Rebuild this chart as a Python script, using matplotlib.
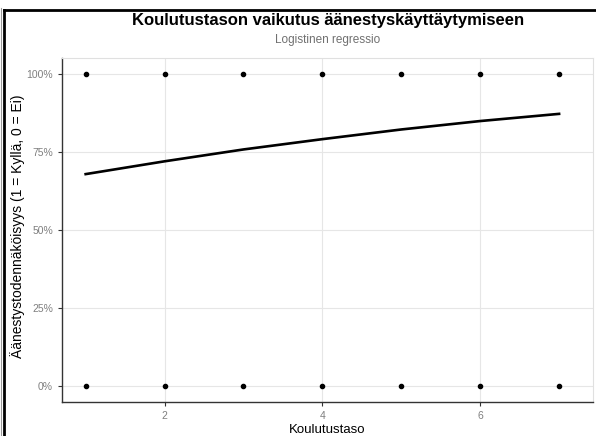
import matplotlib
matplotlib.use("Agg")
import matplotlib.pyplot as plt
from matplotlib.lines import Line2D
from matplotlib.ticker import PercentFormatter

plt.rcParams['font.family'] = ['Liberation Sans', 'DejaVu Sans']

# observed outcomes (voted yes/no) at each education level
edu_levels = [1, 2, 3, 4, 5, 6, 7]
obs_yes = [1, 1, 1, 1, 1, 1, 1]
obs_no = [0, 0, 0, 0, 0, 0, 0]

# fitted logistic curve
fit_x = [1, 2, 3, 4, 5, 6, 7]
fit_prob = [0.678, 0.719, 0.757, 0.790, 0.821, 0.848, 0.871]

y_ticks = [0, 0.25, 0.5, 0.75, 1.0]
x_ticks = [2, 4, 6]

fig = plt.figure(figsize=(5.96, 4.36), dpi=100)
ax = fig.add_axes([0.104, 0.078, 0.891, 0.789])

ax.grid(True, color='#e6e6e6', linewidth=0.8)
ax.set_axisbelow(True)

ax.scatter(edu_levels, obs_yes, s=9, color='black', zorder=3)
ax.scatter(edu_levels, obs_no, s=9, color='black', zorder=3)
ax.plot(fit_x, fit_prob, color='black', linewidth=1.9, zorder=4)

ax.set_xlim(0.7, 7.43)
ax.set_ylim(-0.052, 1.05)
ax.set_xticks(x_ticks)
ax.set_yticks(y_ticks)
ax.yaxis.set_major_formatter(PercentFormatter(1.0, decimals=0))
ax.tick_params(axis='both', labelsize=7.5, labelcolor='#7f7f7f', color='#333333',
               length=3, width=0.8)

for s in ['top', 'right']:
    ax.spines[s].set_color('#e0e0e0')
    ax.spines[s].set_linewidth(0.8)
for s in ['left', 'bottom']:
    ax.spines[s].set_color('#333333')
    ax.spines[s].set_linewidth(1.0)

ax.set_xlabel('Koulutustaso', fontsize=9.5, labelpad=2)
ax.set_ylabel('Äänestystodennäköisyys (1 = Kyllä, 0 = Ei)', fontsize=10)
ax.yaxis.set_label_coords(-0.069, 0.51)

fig.text(0.55, 0.953, 'Koulutustason vaikutus äänestyskäyttäytymiseen',
         ha='center', va='center', fontsize=12, fontweight='bold')
fig.text(0.55, 0.908, 'Logistinen regressio', ha='center', va='center',
         fontsize=8.5, color='#707070')

# frame around the image
fig.add_artist(Line2D([4 / 596, 4 / 596], [0, 1 - 10 / 436], color='black',
                      linewidth=2, transform=fig.transFigure))
fig.add_artist(Line2D([4 / 596, 1], [1 - 10 / 436, 1 - 10 / 436], color='black',
                      linewidth=2, transform=fig.transFigure))
fig.add_artist(Line2D([1 / 596, 1 / 596], [0, 1 - 8 / 436], color='#999999',
                      linewidth=0.8, transform=fig.transFigure))

fig.savefig('out.png', dpi=100)
